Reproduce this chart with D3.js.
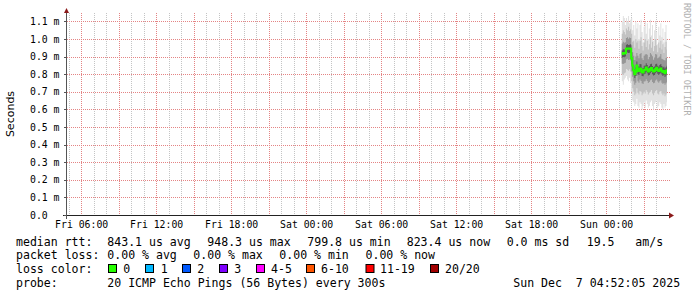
<!DOCTYPE html>
<html><head><meta charset="utf-8">
<script src="https://cdn.jsdelivr.net/npm/d3@7"></script>
<style>html,body{margin:0;padding:0;background:#fff;}svg{display:block;}</style>
</head><body>
<svg id="c" width="697" height="297"></svg>
<script>
// ---- data (values in milliseconds) ----
const rangeStart = "2025-12-05T04:52:05Z";
const rangeEnd   = "2025-12-07T04:52:05Z";
const seriesStart = "2025-12-07T01:15:00Z"; // step 300 s
const stepSeconds = 300;
const median = [0.915,0.920,0.918,0.921,0.945,0.946,0.944,0.946,0.945,0.890,0.850,0.822,0.800,0.812,0.850,0.822,0.818,0.833,0.830,0.812,0.810,0.822,0.825,0.838,0.828,0.815,0.820,0.830,0.835,0.822,0.815,0.818,0.830,0.836,0.824,0.818,0.826,0.832,0.820,0.812,0.818,0.806,0.815,0.823];
const p60 = [0.935,0.942,0.940,0.944,0.968,0.970,0.966,0.968,0.970,0.925,0.880,0.850,0.828,0.840,0.872,0.846,0.842,0.858,0.856,0.836,0.834,0.848,0.850,0.862,0.852,0.840,0.846,0.856,0.860,0.846,0.840,0.844,0.856,0.860,0.848,0.842,0.852,0.858,0.846,0.838,0.842,0.832,0.840,0.848];
const p40 = [0.895,0.898,0.896,0.900,0.922,0.924,0.920,0.922,0.922,0.855,0.822,0.798,0.778,0.790,0.826,0.800,0.796,0.810,0.806,0.790,0.788,0.800,0.802,0.814,0.806,0.792,0.796,0.806,0.812,0.800,0.792,0.796,0.806,0.812,0.802,0.796,0.802,0.808,0.798,0.790,0.796,0.784,0.792,0.800];
const p75 = [0.975,0.985,0.978,0.982,1.005,1.010,1.002,1.008,1.006,0.965,0.925,0.905,0.880,0.900,0.920,0.905,0.890,0.915,0.920,0.890,0.880,0.905,0.912,0.915,0.910,0.885,0.898,0.920,0.912,0.902,0.882,0.895,0.915,0.912,0.890,0.895,0.900,0.915,0.888,0.885,0.880,0.878,0.892,0.895];
const p25 = [0.860,0.858,0.862,0.865,0.885,0.888,0.880,0.884,0.878,0.815,0.785,0.760,0.740,0.752,0.790,0.760,0.752,0.770,0.762,0.748,0.745,0.758,0.760,0.772,0.762,0.750,0.755,0.765,0.770,0.756,0.748,0.752,0.764,0.770,0.758,0.752,0.760,0.766,0.752,0.745,0.750,0.740,0.748,0.756];
const p90 = [1.030,1.050,1.040,1.025,1.060,1.050,1.070,1.045,1.055,1.030,0.985,0.990,0.950,1.000,0.980,0.990,0.945,0.990,1.010,0.960,0.935,0.980,1.000,0.955,0.990,0.940,0.970,1.010,0.950,0.985,0.930,0.960,1.000,0.965,0.925,0.980,0.950,0.990,0.940,0.970,0.920,0.955,0.985,0.940];
const p10 = [0.800,0.795,0.805,0.810,0.830,0.825,0.820,0.828,0.815,0.760,0.720,0.700,0.680,0.690,0.720,0.695,0.685,0.705,0.700,0.680,0.690,0.700,0.690,0.710,0.700,0.685,0.695,0.700,0.710,0.690,0.680,0.695,0.705,0.710,0.690,0.685,0.700,0.705,0.690,0.680,0.690,0.675,0.685,0.695];
const pmax = [1.100,1.130,1.120,1.080,1.120,1.100,1.130,1.090,1.110,1.120,1.050,1.080,1.020,1.100,1.060,1.090,1.000,1.080,1.110,1.040,0.980,1.070,1.100,1.030,1.090,1.000,1.060,1.110,1.020,1.080,0.990,1.050,1.100,1.040,0.970,1.070,1.020,1.090,1.010,1.060,0.980,1.040,1.080,1.000];
const pmin = [0.760,0.740,0.770,0.780,0.790,0.770,0.760,0.780,0.750,0.700,0.650,0.640,0.620,0.630,0.660,0.620,0.610,0.640,0.630,0.600,0.620,0.640,0.610,0.650,0.630,0.610,0.620,0.640,0.650,0.620,0.600,0.630,0.640,0.650,0.610,0.620,0.640,0.630,0.610,0.600,0.630,0.610,0.620,0.640];
const yTickValues = [0,0.1,0.2,0.3,0.4,0.5,0.6,0.7,0.8,0.9,1.0,1.1];
const yTickLabels = ["0.0","0.1 m","0.2 m","0.3 m","0.4 m","0.5 m","0.6 m","0.7 m","0.8 m","0.9 m","1.0 m","1.1 m"];
const xTickTimes = ["2025-12-05T06:00:00Z","2025-12-05T12:00:00Z","2025-12-05T18:00:00Z","2025-12-06T00:00:00Z","2025-12-06T06:00:00Z","2025-12-06T12:00:00Z","2025-12-06T18:00:00Z","2025-12-07T00:00:00Z"];
const xTickLabels = ["Fri 06:00","Fri 12:00","Fri 18:00","Sat 00:00","Sat 06:00","Sat 12:00","Sat 18:00","Sun 00:00"];
const lossLabels = ["0","1","2","3","4-5","6-10","11-19","20/20"];
const lossColors = ["#26ff00","#00b8ff","#0059ff","#7e00ff","#ff00ff","#ff5500","#ff0000","#a10000"];
const statsRtt = ["843.1 us avg","948.3 us max","799.8 us min","823.4 us now","0.0 ms sd","19.5   am/s"];
const statsLoss = ["0.00 % avg","0.00 % max","0.00 % min","0.00 % now"];
const probeText = "20 ICMP Echo Pings (56 Bytes) every 300s";
const stampText = "Sun Dec  7 04:52:05 2025";

// ---- layout ----
const svg = d3.select("#c");
const L = 67, R = 667, B = 215, T = 13;
const mono = "'DejaVu Sans Mono', monospace";
const x = d3.scaleUtc().domain([new Date(rangeStart), new Date(rangeEnd)]).range([L, R]);
const y = d3.scaleLinear().domain([0, 1.1]).range([B, 21.4]);

svg.append("rect").attr("width",697).attr("height",297).attr("fill","#fff");

// grid
const g = svg.append("g");
const t0 = new Date(rangeStart), t1 = new Date(rangeEnd);
d3.utcHour.every(1).range(t0, t1).forEach(d => {
  const major = d.getUTCHours() % 3 === 0;
  g.append("line").attr("x1", Math.round(x(d))+0.5).attr("x2", Math.round(x(d))+0.5)
    .attr("y1", T).attr("y2", B)
    .attr("stroke", major ? "#e48484" : "#c4c4c4").attr("stroke-width",1)
    .attr("stroke-dasharray","1,1");
});
yTickValues.forEach(v => {
  if (v === 0) return;
  g.append("line").attr("x1", L).attr("x2", 670)
    .attr("y1", Math.round(y(v))+0.5).attr("y2", Math.round(y(v))+0.5)
    .attr("stroke","#e48484").attr("stroke-width",1).attr("stroke-dasharray","1,1");
});

// smoke
const times = median.map((_, i) => new Date(new Date(seriesStart).getTime() + i*stepSeconds*1000));
svg.append("clipPath").attr("id","pc").append("rect")
  .attr("x",L).attr("y",T).attr("width",R-L).attr("height",B-T);
const plot = svg.append("g").attr("clip-path","url(#pc)");
function band(lo, hi, color) {
  const data = lo.map((v,i)=>({t:times[i], lo:v, hi:hi[i]}));
  data.push({t:new Date(times[times.length-1].getTime()+stepSeconds*1000), lo:lo[lo.length-1], hi:hi[hi.length-1]});
  plot.append("path").datum(data)
    .attr("d", d3.area().x(d=>x(d.t)).y0(d=>y(d.lo)).y1(d=>y(d.hi)).curve(d3.curveStepAfter))
    .attr("fill", color);
}
band(pmin, pmax, "#e2e2e2");
band(p10, p90, "#c2c2c2");
band(p25, p75, "#969696");
band(p40, p60, "#5a5a5a");
const mdata = median.map((v,i)=>({t:times[i], v}));
mdata.push({t:new Date(times[times.length-1].getTime()+stepSeconds*1000), v:median[median.length-1]});
plot.append("path").datum(mdata)
  .attr("d", d3.line().x(d=>x(d.t)).y(d=>y(d.v)).curve(d3.curveStepAfter))
  .attr("fill","none").attr("stroke",lossColors[0]).attr("stroke-width",2);

// axes
svg.append("line").attr("x1",63).attr("x2",670).attr("y1",B+0.5).attr("y2",B+0.5).attr("stroke","#222");
svg.append("line").attr("x1",L-0.5).attr("x2",L-0.5).attr("y1",219).attr("y2",12).attr("stroke","#555");
svg.append("path").attr("d",`M${L-3},13 L${L+2},13 L${L-0.5},8 Z`).attr("fill","#8b1a1a");
svg.append("path").attr("d",`M669,212.5 L669,218.5 L674,215.5 Z`).attr("fill","#8b1a1a");
yTickValues.forEach(v => {
  svg.append("line").attr("x1",L-3).attr("x2",L).attr("y1",Math.round(y(v))+0.5).attr("y2",Math.round(y(v))+0.5).attr("stroke","#555");
});
// y labels
svg.append("g").selectAll("text").data(yTickValues).join("text")
  .attr("x",30).attr("y",d=>y(d)+3.5).attr("font-family",mono).attr("font-size","9.8px").attr("fill","#000")
  .text((d,i)=>yTickLabels[i]);
// x labels via axis
const xa = svg.append("g").attr("transform",`translate(0,${B})`)
  .call(d3.axisBottom(x).tickValues(xTickTimes.map(s=>new Date(s))).tickSize(0).tickPadding(0)
    .tickFormat((d,i)=>xTickLabels[i]));
xa.select(".domain").remove();
xa.selectAll("text").attr("font-family",mono).attr("font-size","9.8px").attr("fill","#000").attr("dy",null).attr("y",13);
xa.attr("font-family",null).attr("font-size",null);

// y title
svg.append("text").attr("transform","translate(14,114) rotate(-90)").attr("text-anchor","middle")
  .attr("font-family","'DejaVu Sans', sans-serif").attr("font-size","11px").attr("fill","#000").text("Seconds");
// watermark
svg.append("text").attr("transform","translate(684,3) rotate(90)")
  .attr("font-family",mono).attr("font-size","8.5px").attr("fill","#b0b0b0").text("RRDTOOL / TOBI OETIKER");

// legend
const fs = "11.55px";
function txt(xp, yp, s) {
  svg.append("text").attr("x",xp).attr("y",yp).attr("font-family",mono).attr("font-size",fs)
    .attr("fill","#000").attr("xml:space","preserve").style("white-space","pre").text(s);
}
const rows = [245.5, 259.3, 273.2, 287];
txt(16, rows[0], "median rtt:");
const rttX = [107.3, 207.3, 307.3, 406.7, 506.7, 586.7];
statsRtt.forEach((s,i)=>txt(rttX[i], rows[0], s));
txt(16, rows[1], "packet loss:");
const lossX = [107.3, 193.3, 279.3, 365.5];
statsLoss.forEach((s,i)=>txt(lossX[i], rows[1], s));
txt(16, rows[2], "loss color:");
const boxX = [108.5, 145.5, 182.5, 219.5, 256.5, 306.5, 366, 430.5];
const labX = [123.3, 160.7, 197.3, 234.3, 271, 321, 380, 445];
lossLabels.forEach((s,i)=>{
  svg.append("rect").attr("x",boxX[i]).attr("y",264.5).attr("width",8).attr("height",8)
    .attr("fill",lossColors[i]).attr("stroke","#000").attr("stroke-width",1);
  txt(labX[i], rows[2], s);
});
txt(16, rows[3], "probe:");
txt(107.3, rows[3], probeText);
txt(513.3, rows[3], stampText);
</script>
</body></html>
